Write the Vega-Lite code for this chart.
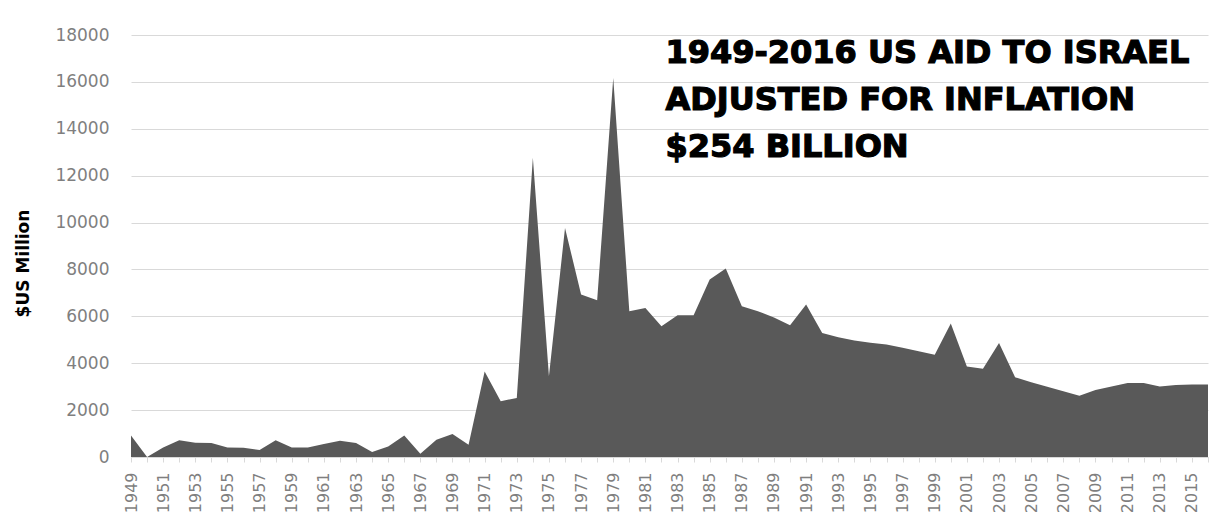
{
  "$schema": "https://vega.github.io/schema/vega-lite/v6.json",
  "width": 1077,
  "height": 422,
  "autosize": {"type": "none"},
  "padding": {"left": 131, "top": 35, "right": 22, "bottom": 72},
  "background": "white",
  "config": {"view": {"stroke": null}},
  "resolve": {"axis": {"x": "independent"}},
  "layer": [
    {
      "data": {"values": [
        {"year": 1949, "aid": 920}, {"year": 1950, "aid": 0}, {"year": 1951, "aid": 400}, {"year": 1952, "aid": 710},
        {"year": 1953, "aid": 610}, {"year": 1954, "aid": 600}, {"year": 1955, "aid": 410}, {"year": 1956, "aid": 390},
        {"year": 1957, "aid": 300}, {"year": 1958, "aid": 710}, {"year": 1959, "aid": 400}, {"year": 1960, "aid": 400},
        {"year": 1961, "aid": 550}, {"year": 1962, "aid": 690}, {"year": 1963, "aid": 600}, {"year": 1964, "aid": 210},
        {"year": 1965, "aid": 450}, {"year": 1966, "aid": 920}, {"year": 1967, "aid": 140}, {"year": 1968, "aid": 740},
        {"year": 1969, "aid": 980}, {"year": 1970, "aid": 520}, {"year": 1971, "aid": 3650}, {"year": 1972, "aid": 2380},
        {"year": 1973, "aid": 2520}, {"year": 1974, "aid": 12760}, {"year": 1975, "aid": 3440}, {"year": 1976, "aid": 9770},
        {"year": 1977, "aid": 6930}, {"year": 1978, "aid": 6690}, {"year": 1979, "aid": 16170}, {"year": 1980, "aid": 6220},
        {"year": 1981, "aid": 6360}, {"year": 1982, "aid": 5580}, {"year": 1983, "aid": 6050}, {"year": 1984, "aid": 6050},
        {"year": 1985, "aid": 7570}, {"year": 1986, "aid": 8040}, {"year": 1987, "aid": 6430}, {"year": 1988, "aid": 6220},
        {"year": 1989, "aid": 5950}, {"year": 1990, "aid": 5620}, {"year": 1991, "aid": 6500}, {"year": 1992, "aid": 5290},
        {"year": 1993, "aid": 5110}, {"year": 1994, "aid": 4970}, {"year": 1995, "aid": 4870}, {"year": 1996, "aid": 4800},
        {"year": 1997, "aid": 4660}, {"year": 1998, "aid": 4510}, {"year": 1999, "aid": 4360}, {"year": 2000, "aid": 5690},
        {"year": 2001, "aid": 3860}, {"year": 2002, "aid": 3760}, {"year": 2003, "aid": 4860}, {"year": 2004, "aid": 3400},
        {"year": 2005, "aid": 3190}, {"year": 2006, "aid": 3000}, {"year": 2007, "aid": 2800}, {"year": 2008, "aid": 2610},
        {"year": 2009, "aid": 2860}, {"year": 2010, "aid": 3010}, {"year": 2011, "aid": 3160}, {"year": 2012, "aid": 3160},
        {"year": 2013, "aid": 3010}, {"year": 2014, "aid": 3070}, {"year": 2015, "aid": 3090}, {"year": 2016, "aid": 3090}
      ]},
      "mark": {"type": "area", "color": "#595959", "interpolate": "linear"},
      "encoding": {
        "x": {
          "field": "year", "type": "quantitative",
          "scale": {"domain": [1949, 2016], "nice": false, "zero": false},
          "axis": {
            "title": null,
            "orient": "bottom",
            "values": [1949,1951,1953,1955,1957,1959,1961,1963,1965,1967,1969,1971,1973,1975,1977,1979,1981,1983,1985,1987,1989,1991,1993,1995,1997,1999,2001,2003,2005,2007,2009,2011,2013,2015],
            "format": "d",
            "labelAngle": -90,
            "labelFont": "DejaVu Sans",
            "labelFontSize": 16,
            "labelColor": "#7f7f7f",
            "labelPadding": 10,
            "labelOverlap": false,
            "labelFlush": false,
            "labelBound": false,
            "grid": false,
            "domainColor": "#d9d9d9",
            "domainWidth": 1,
            "tickColor": "#d9d9d9",
            "tickSize": 5
          }
        },
        "y": {
          "field": "aid", "type": "quantitative",
          "scale": {"domain": [0, 18000], "nice": false},
          "axis": {
            "title": "$US Million",
            "titleFont": "DejaVu Sans",
            "titleFontWeight": "bold",
            "titleFontSize": 17,
            "titleColor": "#000000",
            "titlePadding": 22,
            "titleY": 228,
            "values": [0,2000,4000,6000,8000,10000,12000,14000,16000,18000],
            "format": "d",
            "labelFont": "DejaVu Sans",
            "labelFontSize": 17,
            "labelColor": "#7f7f7f",
            "labelPadding": 22,
            "ticks": false,
            "domain": false,
            "grid": true,
            "gridColor": "#d9d9d9",
            "gridWidth": 1
          }
        }
      }
    },
    {
      "data": {"values": [{}]},
      "mark": {
        "type": "text",
        "font": "DejaVu Sans",
        "fontWeight": "bold",
        "fontSize": 32,
        "color": "#000000",
        "stroke": "#000000",
        "strokeWidth": 1.2,
        "align": "left",
        "baseline": "alphabetic",
        "lineHeight": 47
      },
      "encoding": {
        "x": {
          "datum": 1982.25, "type": "quantitative",
          "axis": {
            "title": null,
            "orient": "bottom",
            "values": [1950,1952,1954,1956,1958,1960,1962,1964,1966,1968,1970,1972,1974,1976,1978,1980,1982,1984,1986,1988,1990,1992,1994,1996,1998,2000,2002,2004,2006,2008,2010,2012,2014,2016],
            "labels": false,
            "domain": false,
            "grid": false,
            "tickColor": "#d9d9d9",
            "tickSize": 5
          }
        },
        "y": {"datum": 16800, "type": "quantitative"},
        "text": {"value": ["1949-2016 US AID TO ISRAEL", "ADJUSTED FOR INFLATION", "$254 BILLION"]}
      }
    }
  ]
}
